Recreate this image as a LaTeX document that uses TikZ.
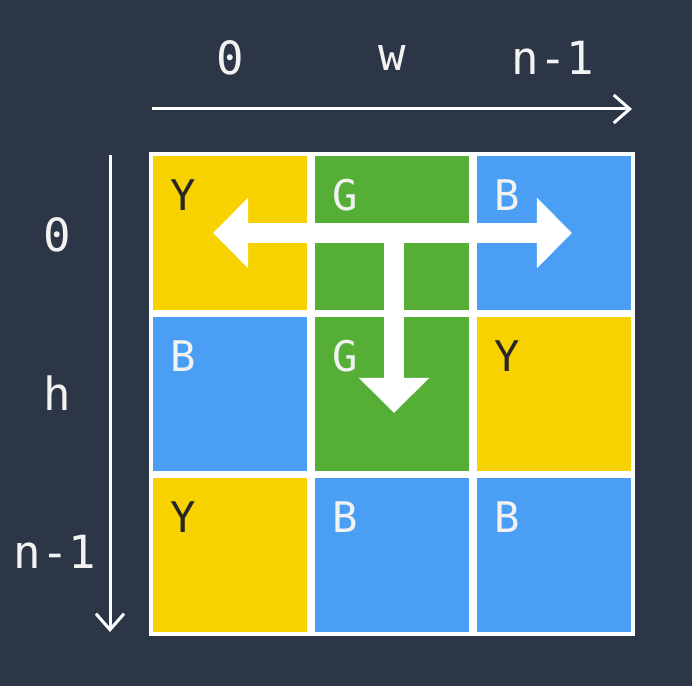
\documentclass[tikz,border=0pt]{standalone}
\usepackage{fontspec}
\setmonofont{DejaVu Sans Mono}
\usetikzlibrary{arrows.meta, calc}
\definecolor{BgSlate}{HTML}{2C3646}
\definecolor{CellYellow}{HTML}{F7D100}
\definecolor{CellGreen}{HTML}{55AE36}
\definecolor{CellBlue}{HTML}{4A9FF5}
\definecolor{InkDark}{HTML}{262626}
\definecolor{InkLight}{HTML}{F2F2F2}
\colorlet{CellY}{CellYellow}
\colorlet{CellG}{CellGreen}
\colorlet{CellB}{CellBlue}
\colorlet{InkY}{InkDark}
\colorlet{InkG}{InkLight}
\colorlet{InkB}{InkLight}

\begin{document}
\begin{tikzpicture}[
    x=0.01cm, y=-0.01cm,
    cell/.style={
        rectangle, minimum width=1.57cm, minimum height=1.57cm,
        draw=white, line width=0.04cm, fill=Cell#1, inner sep=0pt
    },
    tag/.style={font=\ttfamily\fontsize{12}{14}\selectfont, text=#1,
                inner sep=0pt},
    tag/.default={InkLight},
    axlabel/.style={tag, font=\ttfamily\fontsize{13}{15}\selectfont},
    axis/.style={-{Straight Barb[length=0.16cm, width=0.28cm]},
                 line width=0.03cm, white},
    move/.style={line width=0.2cm, white,
                 {Triangle[length=0.35cm, width=0.68cm]}-{Triangle[length=0.35cm, width=0.68cm]}}
]

% Background
\fill[BgSlate] (0,0) rectangle (692,686);
\useasboundingbox (0,0) rectangle (692,686);

% Cells
\foreach \r/\c/\k in {0/0/Y, 0/1/G, 0/2/B,
                      1/0/B, 1/1/G, 1/2/Y,
                      2/0/Y, 2/1/B, 2/2/B} {
    \node[cell=\k] (c\r\c) at ({230+162*\c}, {233+161*\r}) {};
    \node[tag=Ink\k] (t\r\c) at ($(c\r\c.center)+(-47,-38)$) {\k};
}

% Axis labels
\node[axlabel] (top0) at (230,58) {0};
\node[axlabel] (topw) at (392,58) {w};
\node[axlabel] (topn) at (553,58) {n-1};
\node[axlabel] (left0) at (57,235) {0};
\node[axlabel] (lefth) at (57,393) {h};
\node[axlabel] (leftn) at (55,552) {n-1};

% Axes
\coordinate (xbeg) at (152,109);
\coordinate (xend) at (632,109);
\coordinate (ybeg) at (110,155);
\coordinate (yend) at (110,632);
\draw[axis] (xbeg) -- (xend);
\draw[axis] (ybeg) -- (yend);

% Moves from the green cell
\coordinate (mleft) at (213,233);
\coordinate (mright) at (572,233);
\coordinate (mmid) at (394,228);
\coordinate (mdown) at (394,413);
\draw[move] (mleft) -- (mright);
\draw[move, -{Triangle[length=0.35cm, width=0.68cm]}] (mmid) -- (mdown);

\end{tikzpicture}
\end{document}
